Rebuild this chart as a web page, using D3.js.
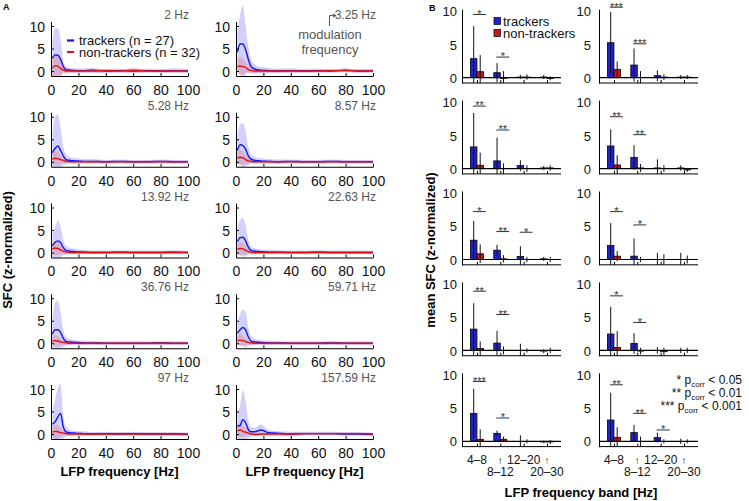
<!DOCTYPE html>
<html><head><meta charset="utf-8">
<script src="https://cdn.jsdelivr.net/npm/d3@7"></script>
<style>
body{margin:0;background:#fff}
text{font-family:"Liberation Sans",Arial,Helvetica,sans-serif}
</style></head>
<body><svg id="c" width="749" height="501"></svg>
<script>
// ---------- DATA ----------
const lfpFreqs = [1,3,5,7,9,11,14,18,24,30,40,50,60,70,80,90,100];
const modFreqLabels = ["2 Hz","3.25 Hz","5.28 Hz","8.57 Hz","13.92 Hz","22.63 Hz","36.76 Hz","59.71 Hz","97 Hz","157.59 Hz"];
const trackersMean = [
 [2.8,3.6,3.5,2.6,1.0,0.3,0.2,0.1,0.1,0.2,0.0,0.1,0.0,0.1,0.0,0.1,0.0],
 [4.2,6.0,6.0,4.8,2.6,1.0,0.4,0.2,0.1,0.0,0.1,0.0,0.1,0.0,0.2,0.0,0.1],
 [2.0,3.0,3.5,2.5,1.3,0.5,0.3,0.2,0.1,0.1,0.0,0.1,0.0,0.0,0.1,0.0,0.0],
 [2.5,3.8,3.6,2.8,1.3,0.6,0.3,0.2,0.1,0.0,0.1,0.0,0.0,0.1,0.0,0.0,0.0],
 [1.5,2.3,2.6,2.2,1.1,0.5,0.3,0.2,0.1,0.0,0.0,0.1,0.0,0.0,0.0,0.1,0.0],
 [2.4,3.3,3.4,2.6,1.2,0.5,0.3,0.2,0.1,0.1,0.0,0.0,0.1,0.0,0.0,0.0,0.0],
 [2.0,3.0,3.0,2.4,1.1,0.4,0.3,0.2,0.1,0.1,0.0,0.0,0.0,0.0,0.1,0.0,0.0],
 [2.2,3.0,3.5,3.0,1.4,0.5,0.3,0.2,0.1,0.1,0.0,0.0,0.0,0.1,0.0,0.0,0.0],
 [2.2,2.7,3.8,4.6,1.5,0.5,0.3,0.2,0.1,0.0,0.1,0.0,0.1,0.0,0.0,0.0,-0.1],
 [1.8,1.9,3.2,2.5,1.0,0.5,0.5,0.9,0.3,0.2,0.0,0.1,0.1,0.1,0.0,0.0,-0.1]
];
const trackersSD = [
 [3.7,5.9,6.0,4.5,1.2,0.7,0.5,0.5,0.5,0.5,0.5,0.4,0.4,0.4,0.4,0.5,0.4],
 [4.2,6.5,8.5,5.5,2.8,1.5,1.0,0.7,0.6,0.5,0.5,0.4,0.4,0.4,0.4,0.4,0.4],
 [4.0,7.0,7.0,5.0,2.0,1.1,0.7,0.6,0.5,0.5,0.4,0.4,0.4,0.4,0.4,0.4,0.4],
 [3.0,4.5,5.0,4.0,2.0,1.0,0.7,0.6,0.5,0.5,0.4,0.4,0.4,0.4,0.4,0.4,0.4],
 [2.5,3.5,4.5,3.5,1.6,1.0,0.7,0.6,0.5,0.4,0.4,0.4,0.4,0.4,0.4,0.4,0.4],
 [2.8,4.0,4.2,3.5,1.6,0.9,0.6,0.5,0.5,0.4,0.4,0.4,0.4,0.4,0.4,0.4,0.4],
 [3.5,6.0,6.5,4.5,1.8,1.0,0.6,0.5,0.5,0.4,0.4,0.4,0.4,0.4,0.4,0.4,0.4],
 [2.5,3.5,4.0,4.0,2.0,1.0,0.6,0.5,0.5,0.4,0.4,0.4,0.4,0.4,0.4,0.4,0.4],
 [3.0,5.0,6.5,6.5,2.5,1.0,0.6,0.5,0.5,0.4,0.4,0.4,0.4,0.4,0.4,0.4,0.4],
 [3.0,4.5,6.5,5.0,2.0,1.0,0.9,1.2,0.6,0.5,0.5,0.4,0.4,0.4,0.4,0.4,0.4]
];
const nonTrackersMean = [
 [0.7,1.2,1.1,0.6,0.2,0.0,0.0,0.0,0.0,0.0,0.1,0.0,0.2,0.0,0.0,0.0,0.0],
 [1.0,1.1,1.0,0.8,0.3,0.1,0.0,0.0,0.0,0.0,0.0,0.0,0.0,0.1,0.1,0.0,0.0],
 [0.6,0.8,0.7,0.5,0.3,0.1,0.0,0.0,0.0,0.0,0.0,0.0,0.0,0.0,0.0,0.0,0.0],
 [0.8,1.0,0.9,0.5,0.2,0.1,0.0,0.0,0.0,0.0,0.0,0.0,0.0,0.0,0.0,0.0,0.0],
 [0.8,1.0,0.9,0.6,0.3,0.1,0.0,0.0,0.0,0.0,0.0,0.0,0.0,0.0,0.0,0.0,0.0],
 [0.7,0.9,0.8,0.5,0.2,0.1,0.0,0.0,0.0,0.0,0.0,0.0,0.0,0.0,0.0,0.0,0.0],
 [0.5,0.6,0.5,0.3,0.2,0.1,0.0,0.0,0.0,0.0,0.0,0.0,0.0,0.0,0.0,0.0,0.0],
 [0.6,0.7,0.6,0.4,0.2,0.1,0.0,0.0,0.0,0.0,0.0,0.0,0.0,0.0,0.0,0.0,0.0],
 [0.4,0.6,0.5,0.3,0.2,0.1,0.0,0.0,0.0,0.0,0.0,0.0,0.0,0.0,0.0,0.0,0.0],
 [0.7,0.9,0.6,0.4,0.2,0.0,-0.1,0.0,0.0,0.0,0.0,0.1,0.1,0.1,0.1,0.1,0.0]
];
const nonTrackersSD = [
 [1.5,2.4,2.2,1.5,0.8,0.5,0.4,0.4,0.3,0.4,0.3,0.3,0.6,0.3,0.3,0.3,0.3],
 [1.5,2.0,1.8,1.2,0.8,0.5,0.4,0.4,0.3,0.3,0.3,0.3,0.3,0.3,0.3,0.3,0.3],
 [1.2,1.5,1.5,1.0,0.6,0.4,0.3,0.3,0.3,0.3,0.3,0.3,0.3,0.3,0.3,0.3,0.3],
 [1.3,1.6,1.5,1.0,0.6,0.4,0.3,0.3,0.3,0.3,0.3,0.3,0.3,0.3,0.3,0.3,0.3],
 [1.2,1.5,1.5,1.0,0.6,0.4,0.3,0.3,0.3,0.3,0.3,0.3,0.3,0.3,0.3,0.3,0.3],
 [1.2,1.4,1.3,1.0,0.6,0.4,0.3,0.3,0.3,0.3,0.3,0.3,0.3,0.3,0.3,0.3,0.3],
 [1.0,1.2,1.2,0.8,0.5,0.4,0.3,0.3,0.3,0.3,0.3,0.3,0.3,0.3,0.3,0.3,0.3],
 [1.0,1.3,1.2,0.8,0.5,0.4,0.3,0.3,0.3,0.3,0.3,0.3,0.3,0.3,0.3,0.3,0.3],
 [1.2,1.6,1.5,1.0,0.6,0.4,0.3,0.3,0.3,0.3,0.3,0.3,0.3,0.3,0.3,0.3,0.3],
 [1.2,1.6,1.3,1.0,0.6,0.4,0.3,0.3,0.3,0.3,0.3,0.3,0.3,0.3,0.3,0.3,0.3]
];
const xTicksA = [0,20,40,60,80,100];
const yTicksA = [0,5,10];

const freqBands = ["4–8","8–12","12–20","20–30"];
const bandTrackers = [
 [2.86,0.75,0.1,0.1],[5.26,1.9,0.3,0.1],[3.26,1.16,0.45,0.1],[3.4,1.66,0.1,0.1],[2.9,1.4,0.45,0.1],
 [2.1,0.5,0.0,0.0],[3.2,1.1,0.0,-0.1],[2.46,1.05,0.0,0.0],[4.2,1.2,0.0,-0.1],[3.2,1.3,0.55,0.0]
];
const bandTrackersSD = [
 [4.9,1.45,0.3,0.3],[4.6,2.5,0.8,0.3],[5.1,3.5,0.8,0.3],[2.5,1.85,1.3,0.4],[2.9,0.8,1.55,0.3],
 [3.4,2.66,1.0,1.0],[3.9,1.86,1.0,0.3],[4.1,1.55,0.5,0.4],[3.7,0.4,0.9,0.2],[4.1,1.15,0.75,0.4]
];
const bandNonTrackers = [
 [0.9,-0.1,0.1,-0.1],[1.26,0.0,0.1,0.1],[0.5,0.0,0.0,0.1],[0.55,0.1,0.0,-0.2],[0.86,0.1,0.0,0.0],
 [0.5,0.0,0.0,0.0],[0.3,0.0,0.0,0.0],[0.45,-0.1,-0.2,0.0],[0.3,0.3,0.0,-0.1],[0.6,0.0,0.0,0.0]
];
const bandNonTrackersSD = [
 [2.5,1.1,0.4,0.3],[1.2,1.0,0.4,0.3],[1.9,0.8,0.5,0.4],[1.45,0.6,0.5,0.3],[1.4,0.55,0.4,0.4],
 [0.76,0.4,0.8,0.6],[1.05,0.6,0.3,0.4],[2.45,0.5,0.6,0.4],[1.5,0.4,0.3,0.3],[1.5,0.7,0.3,0.3]
];
const sigStars = [
 ["*","*","",""],["***","***","",""],["**","**","",""],["**","**","",""],["*","**","*",""],
 ["*","*","",""],["**","**","",""],["*","*","",""],["***","*","",""],["**","**","*",""]
];
const sigLevel = [
 [9.5,3.1,0,0],[10.6,5.1,0,0],[9.4,5.8,0,0],[7.8,5.1,0,0],[7.2,4.2,4.1,0],
 [7.2,5.2,0,0],[8.9,5.4,0,0],[8.2,4.2,0,0],[9.0,3.5,0,0],[8.5,4.2,1.7,0]
];
const yTicksB = [0,5,10];
const pLegend = [["*","0.05"],["**","0.01"],["***","0.001"]];

// ---------- DRAW ----------
const svg = d3.select("#c");
const defs = svg.append("defs");
const FONT = '"Liberation Sans",Arial,sans-serif';
const BLUE = "#1414f0", RED = "#dc1414";
const BARBLUE = "#2020d4", BARRED = "#c41a1a";

// Panel A
const AX = [51, 236], AW = 137;
for (let i = 0; i < 10; i++) {
  const r = Math.floor(i / 2), c = i % 2;
  const zero = 71 + 90.75 * r;
  const H = 54.5, top = zero - 49.5;
  const g = svg.append("g").attr("transform", `translate(${AX[c]},${top})`);
  const x = d3.scaleLinear().domain([0, 100]).range([0, AW]);
  const y = d3.scaleLinear().domain([-1.1, 11]).range([H, 0]);
  defs.append("clipPath").attr("id", "ca" + i).append("rect")
    .attr("x", 0).attr("y", -40).attr("width", AW).attr("height", H + 40);
  const pts = lfpFreqs.map((f, k) => ({f, tm: trackersMean[i][k], ts: trackersSD[i][k],
    nm: nonTrackersMean[i][k], ns: nonTrackersSD[i][k]}));
  const plot = g.append("g").attr("clip-path", `url(#ca${i})`);
  const curve = d3.curveMonotoneX;
  plot.append("path").datum(pts)
    .attr("d", d3.area().curve(curve).x(d => x(d.f)).y0(d => y(d.tm - d.ts)).y1(d => y(d.tm + d.ts)))
    .attr("fill", "rgb(90,90,240)").attr("fill-opacity", 0.28);
  plot.append("path").datum(pts)
    .attr("d", d3.area().curve(curve).x(d => x(d.f)).y0(d => y(d.nm - d.ns)).y1(d => y(d.nm + d.ns)))
    .attr("fill", "rgb(235,80,80)").attr("fill-opacity", 0.26);
  plot.append("path").datum(pts)
    .attr("d", d3.line().curve(curve).x(d => x(d.f)).y(d => y(d.tm)))
    .attr("fill", "none").attr("stroke", BLUE).attr("stroke-width", 1.4);
  plot.append("path").datum(pts)
    .attr("d", d3.line().curve(curve).x(d => x(d.f)).y(d => y(d.nm)))
    .attr("fill", "none").attr("stroke", RED).attr("stroke-width", 1.4);

  const xa = g.append("g").attr("transform", `translate(0,${H})`)
    .call(d3.axisBottom(x).tickValues(xTicksA).tickSizeInner(-3).tickSizeOuter(0).tickPadding(9));
  const ya = g.append("g")
    .call(d3.axisLeft(y).tickValues(yTicksA).tickSizeInner(-3).tickSizeOuter(0).tickPadding(6));
  [xa, ya].forEach(a => {
    a.selectAll("text").attr("font-size", 14).attr("fill", "#111").style("font-family", FONT);
    a.select(".domain").attr("stroke", "#000").attr("stroke-width", 1);
    a.selectAll(".tick line").attr("stroke", "#000");
  });
  ya.selectAll("text").attr("dy", "0.36em");

  g.append("text").attr("x", c === 0 ? 138 : 140).attr("y", 19 + 90.75 * r - top)
    .attr("text-anchor", "end").attr("font-size", 12).attr("fill", "#555")
    .text(modFreqLabels[i]);
}

// annotation on 3.25 Hz panel
svg.append("path").attr("d", "M329.5,26 V15.5 H334").attr("fill", "none").attr("stroke", "#555").attr("stroke-width", 1);
svg.append("path").attr("d", "M333,13.5 L336.5,15.5 L333,17.5 Z").attr("fill", "#555");
svg.append("text").attr("x", 330).attr("y", 39).attr("text-anchor", "middle")
  .attr("font-size", 13).attr("fill", "#555").text("modulation");
svg.append("text").attr("x", 330).attr("y", 54).attr("text-anchor", "middle")
  .attr("font-size", 13).attr("fill", "#555").text("frequency");

// legend A
svg.append("line").attr("x1", 67).attr("x2", 74).attr("y1", 40.5).attr("y2", 40.5).attr("stroke", BLUE).attr("stroke-width", 2.2);
svg.append("line").attr("x1", 67).attr("x2", 74).attr("y1", 52).attr("y2", 52).attr("stroke", RED).attr("stroke-width", 2.2);
svg.append("text").attr("x", 79).attr("y", 44.5).attr("font-size", 13).attr("fill", "#111").text("trackers (n = 27)");
svg.append("text").attr("x", 79).attr("y", 57).attr("font-size", 13).attr("fill", "#111").text("non-trackers (n = 32)");

// Titles A
svg.append("text").attr("x", 3).attr("y", 10).attr("font-size", 9).attr("font-weight", "bold").text("A");
svg.append("text").attr("transform", "translate(12,250) rotate(-90)").attr("text-anchor", "middle")
  .attr("font-size", 13).attr("font-weight", "bold").text("SFC (z-normalized)");
[119.5, 304.5].forEach(cx => svg.append("text").attr("x", cx).attr("y", 476).attr("text-anchor", "middle")
  .attr("font-size", 13).attr("font-weight", "bold").text("LFP frequency [Hz]"));

// Panel B
const BX = [462, 599], BW = 99, BPX = 6.65;
for (let i = 0; i < 10; i++) {
  const r = Math.floor(i / 2), c = i % 2;
  const zero = 77.7 + 90.9 * r;
  const g = svg.append("g").attr("transform", `translate(${BX[c]},0)`);
  const x = d3.scaleLinear().domain([-0.64, 3.6]).range([0, BW]);
  const y = d3.scaleLinear().domain([-0.8, 10.3]).range([zero + 0.8 * BPX, zero - 10.3 * BPX]);
  const bw = 6.5;
  freqBands.forEach((b, k) => {
    const cx = x(k);
    const tm = bandTrackers[i][k], nm = bandNonTrackers[i][k];
    g.append("rect").attr("x", cx - bw).attr("width", bw)
      .attr("y", y(Math.max(0, tm))).attr("height", Math.abs(y(tm) - y(0)))
      .attr("fill", BARBLUE).attr("stroke", "#000").attr("stroke-width", 0.8);
    g.append("rect").attr("x", cx).attr("width", bw)
      .attr("y", y(Math.max(0, nm))).attr("height", Math.abs(y(nm) - y(0)))
      .attr("fill", BARRED).attr("stroke", "#000").attr("stroke-width", 0.8);
  });
  g.append("line").attr("x1", 0).attr("x2", BW).attr("y1", y(0)).attr("y2", y(0)).attr("stroke", "#000").attr("stroke-width", 1.2);
  freqBands.forEach((b, k) => {
    const cx = x(k);
    const tm = bandTrackers[i][k], ts = bandTrackersSD[i][k];
    const nm = bandNonTrackers[i][k], ns = bandNonTrackersSD[i][k];
    g.append("line").attr("x1", cx - bw / 2).attr("x2", cx - bw / 2)
      .attr("y1", y(Math.max(-0.8, tm - ts))).attr("y2", y(tm + ts)).attr("stroke", "#111").attr("stroke-width", 1);
    g.append("line").attr("x1", cx + bw / 2).attr("x2", cx + bw / 2)
      .attr("y1", y(Math.max(-0.8, nm - ns))).attr("y2", y(nm + ns)).attr("stroke", "#111").attr("stroke-width", 1);
    if (sigStars[i][k]) {
      const ly = y(sigLevel[i][k]);
      g.append("line").attr("x1", cx - 4).attr("x2", cx + 9).attr("y1", ly).attr("y2", ly)
        .attr("stroke", "#333").attr("stroke-width", 1);
      g.append("text").attr("x", cx + 2.5).attr("y", ly + 3.3).attr("text-anchor", "middle")
        .attr("font-size", 11).attr("fill", "#333").text(sigStars[i][k]);
    }
  });
  const ya = g.append("g").call(d3.axisLeft(y).tickValues(yTicksB).tickSize(0).tickPadding(c === 0 ? 5 : 8));
  ya.selectAll("text").attr("font-size", 13).attr("fill", "#111").attr("dy", "0.36em").style("font-family", FONT);
  ya.select(".domain").attr("stroke", "#000");
  const xa = g.append("g").attr("transform", `translate(0,${y(-0.8)})`)
    .call(d3.axisBottom(x).tickValues([0, 1, 2, 3]).tickSizeInner(-3).tickSizeOuter(0).tickFormat(""));
  xa.select(".domain").attr("stroke", "#000").attr("d", `M0,0H${BW}`);
  xa.selectAll(".tick line").attr("stroke", "#000");
  if (r === 4) {
    const base = y(-0.8);
    const line1 = [freqBands[0], "↑", freqBands[2], "↑"];
    const line2 = ["", freqBands[1], "", freqBands[3]];
    line1.forEach((t, k) => g.append("text").attr("x", x(k)).attr("y", base + 17.5).attr("text-anchor", "middle")
      .attr("font-size", t === "↑" ? 10 : 12).attr("fill", "#111").text(t));
    line2.forEach((t, k) => t && g.append("text").attr("x", x(k)).attr("y", base + 29.5).attr("text-anchor", "middle")
      .attr("font-size", 12).attr("fill", "#111").text(t));
  }
}

// legend B
svg.append("rect").attr("x", 494).attr("y", 17.5).attr("width", 6.5).attr("height", 7).attr("fill", BARBLUE).attr("stroke", "#000").attr("stroke-width", 0.7);
svg.append("rect").attr("x", 494).attr("y", 29.5).attr("width", 6.5).attr("height", 7).attr("fill", BARRED).attr("stroke", "#000").attr("stroke-width", 0.7);
svg.append("text").attr("x", 503).attr("y", 26).attr("font-size", 13).attr("fill", "#111").text("trackers");
svg.append("text").attr("x", 503).attr("y", 38).attr("font-size", 13).attr("fill", "#111").text("non-trackers");

// p legend
pLegend.forEach((p, k) => {
  const t = svg.append("text").attr("x", 742).attr("y", 384 + 13 * k).attr("text-anchor", "end")
    .attr("font-size", 12).attr("fill", "#111");
  t.append("tspan").text(p[0] + " p");
  t.append("tspan").attr("font-size", 8).attr("dy", 3).text("corr");
  t.append("tspan").attr("dy", -3).text(" < " + p[1]);
});

// Titles B
svg.append("text").attr("x", 429).attr("y", 10.5).attr("font-size", 9).attr("font-weight", "bold").text("B");
svg.append("text").attr("transform", "translate(435,250) rotate(-90)").attr("text-anchor", "middle")
  .attr("font-size", 13).attr("font-weight", "bold").text("mean SFC (z-normalized)");
svg.append("text").attr("x", 581).attr("y", 497).attr("text-anchor", "middle")
  .attr("font-size", 13).attr("font-weight", "bold").text("LFP frequency band [Hz]");
</script></body></html>
